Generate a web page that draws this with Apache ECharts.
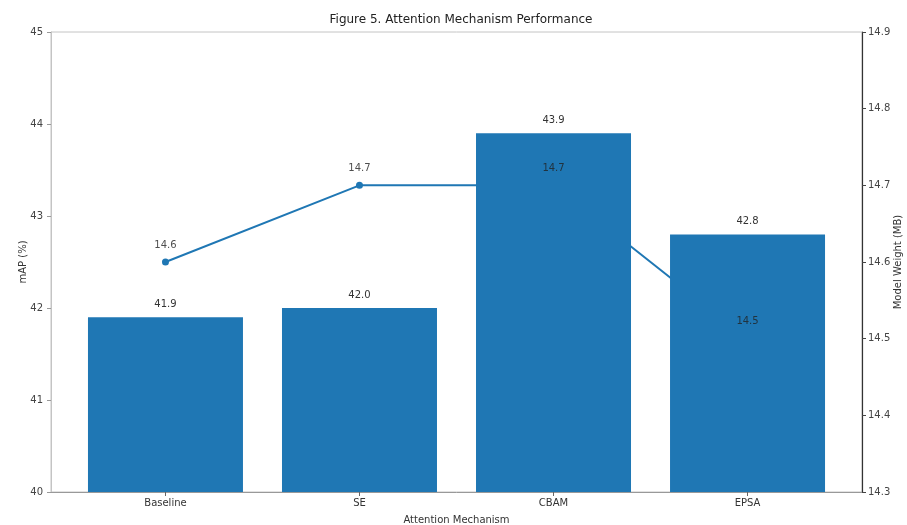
<!DOCTYPE html>
<html>
<head>
<meta charset="utf-8">
<script src="https://cdn.jsdelivr.net/npm/echarts@6/dist/echarts.min.js"></script>
<style>
  html, body { margin: 0; padding: 0; background: #fff; }
  #chart { width: 907px; height: 525px; }
</style>
</head>
<body>
<div id="chart"></div>
<script>
// Attention modules compared
const mechanisms = ['Baseline', 'SE', 'CBAM', 'EPSA'];
// mAP (%) per module, bars on the left axis
const mapValues = [41.9, 42.0, 43.9, 42.8];
// Model weight (MB) per module, line on the right axis
const weightValues = [14.6, 14.7, 14.7, 14.5];
// Axis tick positions
const mapTicks = [40, 41, 42, 43, 44, 45];
const weightTicks = [14.3, 14.4, 14.5, 14.6, 14.7, 14.8, 14.9];
const positions = mechanisms.map((_, i) => i);

const blue = '#1f77b4';
const font = 'DejaVu Sans';

const chart = echarts.init(document.getElementById('chart'), null, { renderer: 'canvas' });

chart.setOption({
  animation: false,
  backgroundColor: '#fff',
  textStyle: { fontFamily: font },
  title: {
    text: 'Figure 5. Attention Mechanism Performance',
    left: 456, top: 9, textAlign: 'center',
    textStyle: { fontFamily: font, fontSize: 12, fontWeight: 'normal', color: '#222' }
  },
  grid: {
    left: 51, right: 45, top: 32, bottom: 33,
    outerBoundsMode: 'none', containLabel: false,
    show: true, borderColor: '#c4c4c4', borderWidth: 1, backgroundColor: 'transparent'
  },
  xAxis: {
    type: 'value', min: -0.59, max: 3.59,
    name: 'Attention Mechanism', nameLocation: 'middle', nameGap: 23,
    nameTextStyle: { fontFamily: font, fontSize: 10, color: '#333' },
    splitLine: { show: false },
    axisLine: { show: true, onZero: false, lineStyle: { color: '#999' } },
    axisTick: { show: true, customValues: positions, length: 4, lineStyle: { color: '#666' } },
    axisLabel: {
      customValues: positions, fontFamily: font, fontSize: 10, color: '#333', margin: 6,
      formatter: v => mechanisms[Math.round(v)]
    }
  },
  yAxis: [
    {
      type: 'value', min: mapTicks[0], max: mapTicks[mapTicks.length - 1], interval: 1, position: 'left',
      name: 'mAP (%)', nameLocation: 'middle', nameGap: 23, nameMoveOverlap: false,
      nameTextStyle: { fontFamily: font, fontSize: 10, color: '#333' },
      splitLine: { show: false },
      axisLine: { show: true, onZero: false, lineStyle: { color: '#c4c4c4' } },
      axisTick: { show: true, length: 4, lineStyle: { color: '#999' } },
      axisLabel: { fontFamily: font, fontSize: 10, color: '#444', margin: 8 }
    },
    {
      type: 'value', min: weightTicks[0], max: weightTicks[weightTicks.length - 1], interval: 0.1, position: 'right',
      name: 'Model Weight (MB)', nameLocation: 'middle', nameGap: 31, nameRotate: 90, nameMoveOverlap: false,
      nameTextStyle: { fontFamily: font, fontSize: 10, color: '#333' },
      splitLine: { show: false },
      axisLine: { show: true, onZero: false, lineStyle: { color: '#333', width: 1.2 } },
      axisTick: { show: true, length: 4, lineStyle: { color: '#444' } },
      axisLabel: { fontFamily: font, fontSize: 10, color: '#444', margin: 6,
        formatter: v => v.toFixed(1) }
    }
  ],
  series: [
    {
      name: 'Model Weight',
      type: 'line', yAxisIndex: 1, z: 1,
      data: weightValues.map((v, i) => [positions[i], v]),
      lineStyle: { color: blue, width: 2 },
      itemStyle: { color: blue },
      symbol: 'circle', symbolSize: 7, showAllSymbol: true
    },
    {
      name: 'mAP',
      type: 'bar', yAxisIndex: 0, z: 2,
      barWidth: 155,
      data: mapValues.map((v, i) => [positions[i], v]),
      itemStyle: { color: blue },
      label: {
        show: true, position: 'top', distance: 8,
        fontFamily: font, fontSize: 10, color: '#333',
        formatter: p => p.value[1].toFixed(1)
      }
    },
    {
      // value labels for the weight line, kept above the bars
      name: 'Model Weight labels',
      type: 'scatter', yAxisIndex: 1, z: 5,
      data: weightValues.map((v, i) => [positions[i], v]),
      symbolSize: 0,
      itemStyle: { color: 'transparent' },
      label: {
        show: true, position: 'top', distance: 12,
        fontFamily: font, fontSize: 10, color: '#222',
        formatter: p => p.value[1].toFixed(1)
      },
      silent: true
    }
  ]
});
</script>
</body>
</html>
